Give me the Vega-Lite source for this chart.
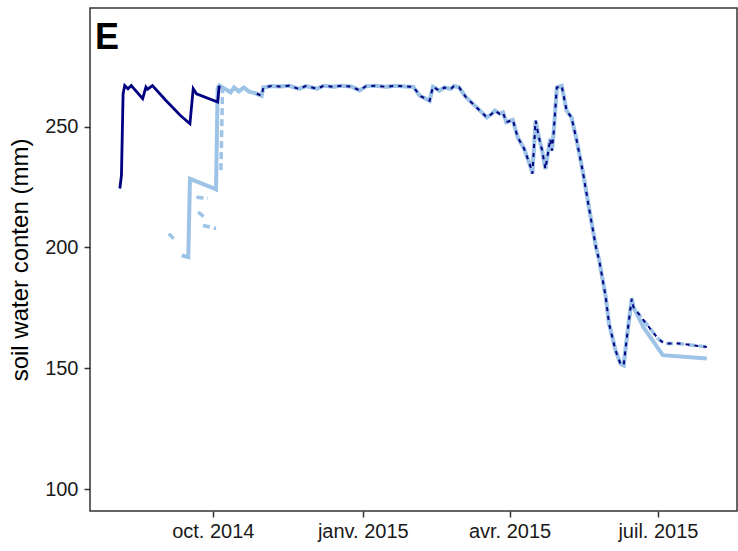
{
  "$schema": "https://vega.github.io/schema/vega-lite/v6.json",
  "width": 647,
  "height": 503,
  "autosize": "none",
  "padding": {"left": 90, "top": 8, "right": 1, "bottom": 40},
  "background": "white",
  "title": {"text": "E", "anchor": "start", "frame": "group", "offset": -42, "dy": 35, "dx": 5, "fontSize": 36, "fontWeight": "bold", "font": "Liberation Sans", "color": "#000000", "baseline": "alphabetic"},
  "config": {
    "view": {"stroke": "#333333", "strokeWidth": 1.5},
    "axis": {"grid": false, "domain": false, "tickColor": "#333333", "tickWidth": 1.5, "tickSize": 6, "labelFont": "Liberation Sans", "labelFontSize": 20, "labelColor": "#1a1a1a", "titleFont": "Liberation Sans", "titleFontSize": 24, "titleFontWeight": "normal", "titleColor": "#000000"}
  },
  "data": {"values": [
    {"d":"2014-08-05","v":224.4,"br":"nav","g":"m"},
    {"d":"2014-08-06","v":229.8,"br":"nav","g":"m"},
    {"d":"2014-08-07","v":263.5,"br":"nav","g":"m"},
    {"d":"2014-08-08","v":267.0,"br":"nav","g":"m"},
    {"d":"2014-08-10","v":265.7,"br":"nav","g":"m"},
    {"d":"2014-08-12","v":267.0,"br":"nav","g":"m"},
    {"d":"2014-08-19","v":261.6,"br":"nav","g":"m"},
    {"d":"2014-08-21","v":266.4,"br":"nav","g":"m"},
    {"d":"2014-08-22","v":265.5,"br":"nav","g":"m"},
    {"d":"2014-08-25","v":267.0,"br":"nav","g":"m"},
    {"d":"2014-09-02","v":261.0,"br":"nav","g":"m"},
    {"d":"2014-09-11","v":254.7,"br":"nav","g":"m"},
    {"d":"2014-09-17","v":251.2,"br":"nav","g":"m"},
    {"d":"2014-09-19","v":265.7,"br":"nav","g":"m"},
    {"d":"2014-09-21","v":263.6,"br":"nav","g":"m"},
    {"d":"2014-10-04","v":260.2,"br":"nav","g":"m"},
    {"d":"2014-10-05","v":267.0,"br":"nav","g":"m"},

    {"d":"2014-09-12","v":196.7,"br":"lbe","g":"m"},
    {"d":"2014-09-16","v":196.0,"br":"lbe","g":"m"},
    {"d":"2014-09-17","v":228.4,"br":"lbe","g":"m"},
    {"d":"2014-10-02","v":224.3,"br":"lbe","g":"m"},
    {"d":"2014-10-03","v":224.0,"br":"lbe","g":"m"},
    {"d":"2014-10-04","v":266.0,"br":"lbe","g":"m"},
    {"d":"2014-10-05","v":267.0,"br":"c5","g":"m"},

    {"d":"2014-09-04","v":205.7,"br":"lbde","g":"f1"},
    {"d":"2014-09-08","v":202.9,"br":"lbde","g":"f1"},
    {"d":"2014-09-21","v":220.8,"br":"lbde","g":"f2"},
    {"d":"2014-09-28","v":220.2,"br":"lbde","g":"f2"},
    {"d":"2014-09-22","v":214.6,"br":"lbde","g":"f3"},
    {"d":"2014-09-26","v":212.5,"br":"lbde","g":"f3"},
    {"d":"2014-09-25","v":209.1,"br":"lbde","g":"f4"},
    {"d":"2014-10-03","v":207.8,"br":"lbde","g":"f4"},
    {"d":"2014-10-06","v":232.0,"br":"lbde","g":"m"},
    {"d":"2014-10-07","v":266.0,"br":"lbde","g":"m"},

    {"d":"2014-10-08","v":265.8,"br":"c0","g":"m"},
    {"d":"2014-10-12","v":264.2,"br":"c0","g":"m"},
    {"d":"2014-10-14","v":266.2,"br":"c0","g":"m"},
    {"d":"2014-10-17","v":264.6,"br":"c0","g":"m"},
    {"d":"2014-10-20","v":266.2,"br":"c0","g":"m"},
    {"d":"2014-10-23","v":264.6,"br":"c0","g":"m"},

    {"d":"2014-10-28","v":263.6,"br":"c","g":"m"},
    {"d":"2014-10-31","v":262.8,"br":"c","g":"m"},
    {"d":"2014-11-01","v":266.2,"br":"c","g":"m"},
    {"d":"2014-11-06","v":266.8,"br":"c","g":"m"},
    {"d":"2014-11-11","v":266.6,"br":"c","g":"m"},
    {"d":"2014-11-17","v":266.9,"br":"c","g":"m"},
    {"d":"2014-11-23","v":265.6,"br":"c","g":"m"},
    {"d":"2014-11-27","v":266.8,"br":"c","g":"m"},
    {"d":"2014-12-04","v":265.7,"br":"c","g":"m"},
    {"d":"2014-12-08","v":266.9,"br":"c","g":"m"},
    {"d":"2014-12-14","v":266.5,"br":"c","g":"m"},
    {"d":"2014-12-19","v":266.9,"br":"c","g":"m"},
    {"d":"2014-12-25","v":266.6,"br":"c","g":"m"},
    {"d":"2014-12-30","v":265.0,"br":"c","g":"m"},
    {"d":"2015-01-03","v":266.7,"br":"c","g":"m"},
    {"d":"2015-01-09","v":266.9,"br":"c","g":"m"},
    {"d":"2015-01-15","v":266.5,"br":"c","g":"m"},
    {"d":"2015-01-21","v":266.9,"br":"c","g":"m"},
    {"d":"2015-01-27","v":266.6,"br":"c","g":"m"},
    {"d":"2015-02-01","v":266.5,"br":"c","g":"m"},
    {"d":"2015-02-05","v":262.8,"br":"c","g":"m"},
    {"d":"2015-02-11","v":260.7,"br":"c","g":"m"},
    {"d":"2015-02-13","v":266.5,"br":"c","g":"m"},
    {"d":"2015-02-17","v":264.9,"br":"c","g":"m"},
    {"d":"2015-02-20","v":266.2,"br":"c","g":"m"},
    {"d":"2015-02-24","v":265.6,"br":"c","g":"m"},
    {"d":"2015-02-26","v":266.8,"br":"c","g":"m"},
    {"d":"2015-03-01","v":266.3,"br":"c","g":"m"},
    {"d":"2015-03-05","v":262.4,"br":"c","g":"m"},
    {"d":"2015-03-10","v":259.1,"br":"c","g":"m"},
    {"d":"2015-03-15","v":255.9,"br":"c","g":"m"},
    {"d":"2015-03-18","v":253.8,"br":"c","g":"m"},
    {"d":"2015-03-21","v":255.2,"br":"c","g":"m"},
    {"d":"2015-03-23","v":256.6,"br":"c","g":"m"},
    {"d":"2015-03-26","v":255.3,"br":"c","g":"m"},
    {"d":"2015-03-28","v":255.9,"br":"c","g":"m"},
    {"d":"2015-03-30","v":251.8,"br":"c","g":"m"},
    {"d":"2015-04-03","v":252.8,"br":"c","g":"m"},
    {"d":"2015-04-06","v":245.6,"br":"c","g":"m"},
    {"d":"2015-04-10","v":240.8,"br":"c","g":"m"},
    {"d":"2015-04-14","v":233.2,"br":"c","g":"m"},
    {"d":"2015-04-15","v":230.5,"br":"c","g":"m"},
    {"d":"2015-04-17","v":252.5,"br":"c","g":"m"},
    {"d":"2015-04-19","v":245.6,"br":"c","g":"m"},
    {"d":"2015-04-21","v":240.1,"br":"c","g":"m"},
    {"d":"2015-04-23","v":232.5,"br":"c","g":"m"},
    {"d":"2015-04-26","v":244.9,"br":"c","g":"m"},
    {"d":"2015-04-27","v":240.1,"br":"c","g":"m"},
    {"d":"2015-04-28","v":247.0,"br":"c","g":"m"},
    {"d":"2015-04-30","v":266.2,"br":"c","g":"m"},
    {"d":"2015-05-03","v":266.9,"br":"c","g":"m"},
    {"d":"2015-05-06","v":256.6,"br":"c","g":"m"},
    {"d":"2015-05-09","v":253.8,"br":"c","g":"m"},
    {"d":"2015-05-12","v":244.9,"br":"c","g":"m"},
    {"d":"2015-05-16","v":231.2,"br":"c","g":"m"},
    {"d":"2015-05-20","v":215.3,"br":"c","g":"m"},
    {"d":"2015-05-24","v":200.1,"br":"c","g":"m"},
    {"d":"2015-05-26","v":194.6,"br":"c","g":"m"},
    {"d":"2015-05-30","v":179.5,"br":"c","g":"m"},
    {"d":"2015-06-01","v":168.5,"br":"c","g":"m"},
    {"d":"2015-06-05","v":157.4,"br":"c","g":"m"},
    {"d":"2015-06-08","v":151.9,"br":"c","g":"m"},
    {"d":"2015-06-10","v":151.2,"br":"c","g":"m"},
    {"d":"2015-06-12","v":162.9,"br":"c","g":"m"},
    {"d":"2015-06-14","v":173.9,"br":"c","g":"m"},
    {"d":"2015-06-15","v":178.8,"br":"c","g":"m"},
    {"d":"2015-06-16","v":175.3,"br":"c","g":"m"},

    {"d":"2015-06-22","v":167.1,"br":"se","g":"m"},
    {"d":"2015-07-04","v":155.4,"br":"se","g":"m"},
    {"d":"2015-07-31","v":154.0,"br":"se","g":"m"},

    {"d":"2015-06-22","v":170.0,"br":"de","g":"m"},
    {"d":"2015-07-01","v":162.3,"br":"de","g":"m"},
    {"d":"2015-07-05","v":160.2,"br":"de","g":"m"},
    {"d":"2015-07-14","v":160.2,"br":"de","g":"m"},
    {"d":"2015-07-31","v":158.8,"br":"de","g":"m"}
  ]},
  "encoding": {
    "x": {
      "field": "d", "type": "temporal",
      "scale": {"type": "utc", "domain": [{"year": 2014, "month": 7, "date": 17, "hours": 17, "utc": true}, {"year": 2015, "month": 8, "date": 18, "hours": 12, "utc": true}]},
      "axis": {
        "title": null,
        "values": [{"year": 2014, "month": 10, "date": 1, "utc": true}, {"year": 2015, "month": 1, "date": 1, "utc": true}, {"year": 2015, "month": 4, "date": 1, "utc": true}, {"year": 2015, "month": 7, "date": 1, "utc": true}],
        "labelExpr": "['janv.','févr.','mars','avr.','mai','juin','juil.','août','sept.','oct.','nov.','déc.'][utcmonth(datum.value)] + ' ' + utcyear(datum.value)",
        "labelPadding": 4,
        "labelFlush": false
      }
    },
    "y": {
      "field": "v", "type": "quantitative",
      "scale": {"domain": [90.9, 299.1], "nice": false, "zero": false},
      "axis": {"values": [100, 150, 200, 250], "title": "soil water conten (mm)", "labelPadding": 6, "titlePadding": 12}
    },
    "detail": {"field": "g"}
  },
  "layer": [
    {
      "transform": [{"filter": {"field": "br", "oneOf": ["lbde", "c0", "c", "de"]}}],
      "mark": {"type": "line", "color": "#9dc3e6", "strokeWidth": 3.5, "strokeDash": [7, 4]}
    },
    {
      "transform": [{"filter": {"field": "br", "oneOf": ["lbe", "c5", "c0", "c", "se"]}}],
      "mark": {"type": "line", "color": "#9dc3e6", "strokeWidth": 4}
    },
    {
      "transform": [{"filter": {"field": "br", "equal": "nav"}}],
      "mark": {"type": "line", "color": "#000080", "strokeWidth": 2.8}
    },
    {
      "transform": [{"filter": {"field": "br", "oneOf": ["c", "de"]}}],
      "mark": {"type": "line", "color": "#000080", "strokeWidth": 2, "strokeDash": [4, 5]}
    }
  ]
}
